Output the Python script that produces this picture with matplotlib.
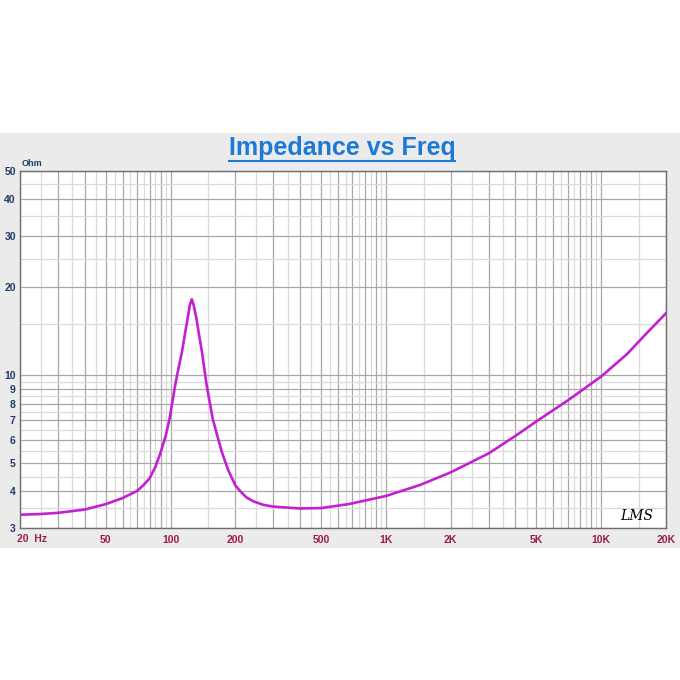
import numpy as np
import matplotlib
matplotlib.use("Agg")
import matplotlib.pyplot as plt
from matplotlib.patches import Rectangle
from matplotlib.lines import Line2D

# impedance curve (Hz, Ohm)
freq = [20, 25, 30, 40, 50, 60, 70, 75, 80, 85, 90, 95, 99, 105, 109, 113, 117,
        120, 123, 125.6, 128, 132, 136, 140, 147, 152, 157, 165, 173, 185, 200,
        210, 225, 243, 270, 300, 400, 500, 670, 1000, 1440, 2000, 3000, 4000,
        5000, 7000, 10000, 13160, 16000, 20000]
impedance = [3.33, 3.35, 3.38, 3.47, 3.62, 3.80, 4.02, 4.21, 4.44, 4.85, 5.45,
             6.2, 7.1, 9.2, 10.6, 12.0, 14.0, 15.6, 17.4, 18.2, 17.4, 15.6,
             13.6, 12.0, 9.3, 8.1, 7.1, 6.2, 5.47, 4.75, 4.2, 4.02, 3.82, 3.70,
             3.60, 3.55, 3.50, 3.51, 3.62, 3.86, 4.21, 4.65, 5.4, 6.2, 6.95, 8.2,
             9.9, 11.8, 13.75, 16.3]

x_label_vals = [50, 100, 200, 500, 1000, 2000, 5000, 10000, 20000]
x_label_text = ["50", "100", "200", "500", "1K", "2K", "5K", "10K", "20K"]
y_label_vals = [3, 4, 5, 6, 7, 8, 9, 10, 20, 30, 40, 50]

title = "Impedance vs Freq"

plt.rcParams['font.family'] = ['Liberation Sans', 'DejaVu Sans']

fig = plt.figure(figsize=(6.8, 6.8), dpi=100)
fig.patch.set_facecolor('white')

# grey panel behind the chart
fig.add_artist(Rectangle((0, 1 - 548 / 680), 1, (548 - 133) / 680,
                         transform=fig.transFigure, facecolor='#ebebeb',
                         edgecolor='none', zorder=0))

ax = fig.add_axes([20 / 680, 1 - 528 / 680, 646 / 680, 357 / 680])
ax.set_facecolor('white')
ax.set_xscale('log')
ax.set_yscale('log')
ax.set_xlim(20, 20000)
ax.set_ylim(3, 50)

# grid: dark at 1..9 x decade, light at the half steps
x_major, x_minor = [], []
for dec in [10, 100, 1000, 10000]:
    for m in range(1, 10):
        v = m * dec
        if 20 <= v <= 20000:
            x_major.append(v)
        h = (m + 0.5) * dec
        if 20 < h < 20000:
            x_minor.append(h)
y_major, y_minor = [], []
for dec in [1, 10]:
    for m in range(1, 10):
        v = m * dec
        if 3 <= v <= 50:
            y_major.append(v)
        h = (m + 0.5) * dec
        if 3 < h < 50:
            y_minor.append(h)

ax.set_xticks(x_major, [x_label_text[x_label_vals.index(v)] if v in x_label_vals else ""
                        for v in x_major])
ax.set_xticks(x_minor, [""] * len(x_minor), minor=True)
ax.set_yticks(y_major, [str(v) if v in y_label_vals else "" for v in y_major])
ax.set_yticks(y_minor, [""] * len(y_minor), minor=True)
ax.tick_params(which='both', length=0)
ax.tick_params(axis='x', pad=5, labelsize=7.5, labelcolor='#9c1c48')
ax.tick_params(axis='y', pad=3, labelsize=7.5, labelcolor='#1f3a68')
for lab in ax.get_xticklabels() + ax.get_yticklabels():
    lab.set_fontweight('bold')
ax.grid(which='major', color='#a8a8a8', linewidth=0.9)
ax.grid(which='minor', color='#dadada', linewidth=0.9)
ax.set_axisbelow(True)
for sp in ax.spines.values():
    sp.set_color('#6e6e6e')
    sp.set_linewidth(1.0)

ax.plot(freq, impedance, color='#c41fd0', linewidth=1.9, solid_joinstyle='round')

# axis annotations
ax.text(-0.004, -0.016, "20  Hz", transform=ax.transAxes, ha='left', va='top',
        fontsize=7.5, fontweight='bold', color='#9c1c48')
fig.text(22 / 680, 1 - 164 / 680, "Ohm", ha='left', va='center',
         fontsize=6.5, fontweight='bold', color='#1f3a68')
ax.text(0.955, 0.035, "LMS", transform=ax.transAxes, ha='center', va='center',
        fontsize=10, style='italic', color='black', family='DejaVu Serif')

# underlined title
t = fig.text(342 / 680, 1 - 148 / 680, title, ha='center', va='center',
             fontsize=18, fontweight='bold', color='#1c7ad6')
fig.canvas.draw()
bb = t.get_window_extent(fig.canvas.get_renderer()).transformed(fig.transFigure.inverted())
fig.add_artist(Line2D([bb.x0, bb.x1], [bb.y0 - 0.002, bb.y0 - 0.002],
                      transform=fig.transFigure, color='#1c7ad6', linewidth=1.5))

fig.savefig("out.png", dpi=100, facecolor='white')
